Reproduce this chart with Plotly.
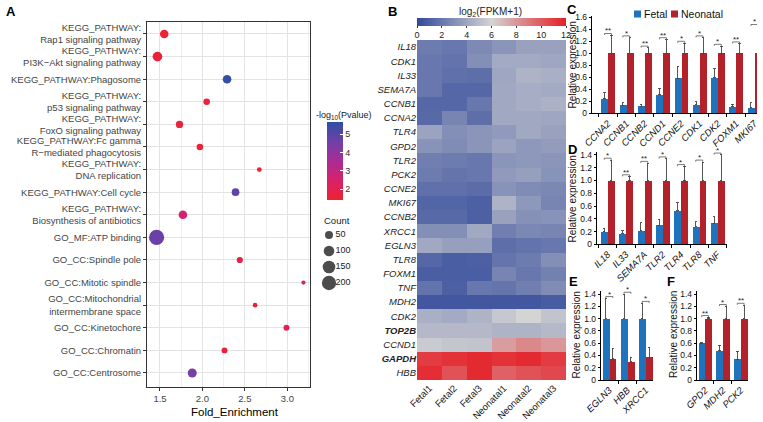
import numpy as np
import plotly.graph_objects as go

W, H = 763, 422
FONT = "Liberation Sans, Arial, Helvetica, sans-serif"
BLUE = "#1F73BD"
RED = "#B3212B"


def fx(p):
    return p / W


def fy(p):
    return 1 - p / H


# ---------------- Panel A data ----------------
terms = [
    "KEGG_PATHWAY:<br>Rap1 signaling pathway",
    "KEGG_PATHWAY:<br>PI3K−Akt signaling pathway",
    "KEGG_PATHWAY:Phagosome",
    "KEGG_PATHWAY:<br>p53 signaling pathway",
    "KEGG_PATHWAY:<br>FoxO signaling pathway",
    "KEGG_PATHWAY:Fc gamma<br>R−mediated phagocytosis",
    "KEGG_PATHWAY:<br>DNA replication",
    "KEGG_PATHWAY:Cell cycle",
    "KEGG_PATHWAY:<br>Biosynthesis of antibiotics",
    "GO_MF:ATP binding",
    "GO_CC:Spindle pole",
    "GO_CC:Mitotic spindle",
    "GO_CC:Mitochondrial<br>intermembrane space",
    "GO_CC:Kinetochore",
    "GO_CC:Chromatin",
    "GO_CC:Centrosome",
]
fold_enrichment = [1.55, 1.47, 2.29, 2.05, 1.73, 1.97, 2.67, 2.39, 1.77, 1.46,
                   2.44, 3.19, 2.62, 2.99, 2.26, 1.88]
neg_log10_p = [1.5, 1.6, 5.6, 1.6, 1.6, 1.55, 1.5, 4.9, 2.6, 4.7,
               1.7, 2.0, 1.6, 2.1, 1.7, 4.5]
gene_count = [60, 80, 60, 30, 40, 30, 12, 45, 60, 230, 25, 8, 11, 23, 23, 67]
size_legend_counts = [50, 100, 150, 200]
pval_ticks = [2, 3, 4, 5]
fold_ticks = [1.5, 2.0, 2.5, 3.0]

# ---------------- Panel B data ----------------
genes = ["IL18", "CDK1", "IL33", "SEMA7A", "CCNB1", "CCNA2", "TLR4", "GPD2",
         "TLR2", "PCK2", "CCNE2", "MKI67", "CCNB2", "XRCC1", "EGLN3", "TLR8",
         "FOXM1", "TNF", "MDH2", "CDK2", "TOP2B", "CCND1", "GAPDH", "HBB"]
bold_genes = ["TOP2B", "GAPDH"]
samples = ["Fetal1", "Fetal2", "Fetal3", "Neonatal1", "Neonatal2", "Neonatal3"]
fetal1 = [2.2, 2.0, 2.0, 2.0, 1.3, 1.4, 3.9, 3.2, 2.3, 2.2, 1.7, 1.2, 1.4, 3.0,
          4.1, 1.3, 0.9, 1.8, 0.6, 4.4, 4.8, 5.6, 11.0, 11.5]
fetal2 = [2.0, 1.8, 1.7, 1.3, 1.3, 2.6, 3.0, 2.9, 2.2, 1.9, 1.7, 1.2, 1.4, 3.0,
          3.7, 0.9, 0.9, 1.0, 0.6, 4.2, 4.8, 5.4, 11.3, 10.3]
fetal3 = [2.8, 3.0, 1.6, 1.3, 2.0, 1.6, 3.3, 3.3, 2.0, 2.0, 1.5, 1.0, 1.0, 4.1,
          3.7, 1.0, 0.9, 2.0, 0.6, 4.6, 4.8, 5.3, 11.6, 11.6]
neonatal1 = [3.3, 4.2, 4.0, 4.1, 4.1, 4.1, 3.5, 3.9, 3.3, 3.5, 3.2, 4.6, 3.8, 2.3,
             1.6, 1.9, 2.6, 1.9, 0.6, 5.5, 4.6, 7.8, 11.3, 9.8]
neonatal2 = [3.8, 4.2, 4.6, 4.3, 4.3, 4.1, 4.1, 3.4, 3.4, 3.7, 2.9, 3.4, 3.1, 2.7,
             1.8, 2.2, 2.0, 2.3, 0.6, 6.0, 4.6, 8.5, 11.6, 10.3]
neonatal3 = [3.8, 4.0, 4.4, 4.2, 4.5, 4.0, 3.8, 3.6, 3.3, 3.2, 2.7, 2.6, 3.2, 2.6,
             2.0, 3.0, 2.4, 2.9, 0.8, 5.3, 4.8, 8.0, 11.0, 10.6]
fpkm_ticks = [0, 2, 4, 6, 8, 10, 12]

# ---------------- Panels C-F data ----------------
genes_c = ["CCNA2", "CCNB1", "CCNB2", "CCND1", "CCNE2", "CDK1", "CDK2", "FOXM1", "MKI67"]
fetal_c = [0.24, 0.13, 0.12, 0.31, 0.58, 0.14, 0.59, 0.11, 0.09]
fetal_c_err = [0.10, 0.045, 0.03, 0.10, 0.20, 0.05, 0.15, 0.04, 0.085]
neo_c = [1, 1, 1, 1, 1, 1, 1, 1, 1]
neo_c_err = [0.30, 0.26, 0.09, 0.23, 0.17, 0.26, 0.12, 0.16, 0.45]
sig_c = ["**", "*", "**", "**", "*", "*", "*", "**", "*"]

genes_d = ["IL18", "IL33", "SEMA7A", "TLR2", "TLR4", "TLR8", "TNF"]
fetal_d = [0.20, 0.17, 0.21, 0.30, 0.53, 0.28, 0.33]
fetal_d_err = [0.05, 0.04, 0.13, 0.09, 0.12, 0.075, 0.10]
neo_d = [1, 1, 1, 1, 1, 1, 1]
neo_d_err = [0.32, 0.06, 0.27, 0.34, 0.22, 0.29, 0.40]
sig_d = ["*", "**", "**", "*", "*", "*", "*"]

genes_e = ["EGLN3", "HBB", "XRCC1"]
fetal_e = [1, 1, 1]
fetal_e_err = [0.33, 0.40, 0.25]
neo_e = [0.35, 0.30, 0.37]
neo_e_err = [0.17, 0.07, 0.16]
sig_e = ["*", "*", "*"]

genes_f = ["GPD2", "MDH2", "PCK2"]
fetal_f = [0.60, 0.48, 0.34]
fetal_f_err = [0.01, 0.09, 0.13]
neo_f = [1, 1, 1]
neo_f_err = [0.02, 0.20, 0.22]
sig_f = ["**", "*", "**"]

rel_ticks_c = [0, 0.2, 0.4, 0.6, 0.8, 1.0, 1.2, 1.4, 1.6]
rel_ticks = [0, 0.2, 0.4, 0.6, 0.8, 1.0, 1.2, 1.4]


def dot_size(c):
    return 1.7 + 0.89 * np.sqrt(np.asarray(c, dtype=float))


fig = go.Figure()
annotations = []
shapes = []

# ---------------- Panel A ----------------
fig.add_trace(go.Scatter(
    x=fold_enrichment, y=terms, mode="markers",
    marker=dict(size=dot_size(gene_count), color=neg_log10_p, coloraxis="coloraxis",
                line=dict(width=0), opacity=1),
    xaxis="x", yaxis="y", showlegend=False, hoverinfo="skip"))

# size legend
fig.add_trace(go.Scatter(
    x=[13] * 4, y=list(range(4)), mode="markers",
    marker=dict(size=dot_size(size_legend_counts), color="black", line=dict(width=0)),
    xaxis="x7", yaxis="y7", showlegend=False, hoverinfo="skip"))
fig.add_trace(go.Scatter(
    x=[19.5] * 4, y=list(range(4)), mode="text", text=[str(c) for c in size_legend_counts],
    textposition="middle right", textfont=dict(size=9, color="#222", family=FONT),
    xaxis="x7", yaxis="y7", showlegend=False, hoverinfo="skip"))

# ---------------- Panel B ----------------
z = np.column_stack([fetal1, fetal2, fetal3, neonatal1, neonatal2, neonatal3])
fig.add_trace(go.Heatmap(z=z, x=samples, y=genes, coloraxis="coloraxis2",
                         xaxis="x2", yaxis="y2", hoverinfo="skip"))
gene_labels = [("<b><i>%s</i></b>" % g) if g in bold_genes else ("<i>%s</i>" % g) for g in genes]


# ---------------- Bar panels ----------------
def bar_panel(xa, ya, gl, fet, fet_err, neo, neo_err, sig):
    n = len(gl)
    pos = np.arange(n)
    for vals, errs, col, off in ((fet, fet_err, BLUE, -0.19), (neo, neo_err, RED, 0.19)):
        fig.add_trace(go.Bar(
            x=pos + off, y=vals, width=0.38, marker=dict(color=col, line=dict(width=0)),
            error_y=dict(type="data", symmetric=False, array=errs, arrayminus=[0] * n,
                         color="#444", thickness=0.9, width=1.2),
            xaxis=xa, yaxis=ya, showlegend=False, hoverinfo="skip"))
    bx, by = [], []
    for i in range(n):
        top = max(fet[i] + fet_err[i], neo[i] + neo_err[i]) + 0.03
        bx += [i - 0.19, i - 0.19, i + 0.19, i + 0.19, None]
        by += [top - 0.025, top, top, top - 0.025, None]
        annotations.append(dict(x=i, y=top, xref=xa, yref=ya, text=sig[i], showarrow=False,
                                yanchor="bottom", yshift=-4,
                                font=dict(size=8, color="#222", family=FONT)))
    fig.add_trace(go.Scatter(x=bx, y=by, mode="lines", line=dict(color="#444", width=0.7),
                             xaxis=xa, yaxis=ya, showlegend=False, hoverinfo="skip"))


bar_panel("x3", "y3", genes_c, fetal_c, fetal_c_err, neo_c, neo_c_err, sig_c)
bar_panel("x4", "y4", genes_d, fetal_d, fetal_d_err, neo_d, neo_d_err, sig_d)
bar_panel("x5", "y5", genes_e, fetal_e, fetal_e_err, neo_e, neo_e_err, sig_e)
bar_panel("x6", "y6", genes_f, fetal_f, fetal_f_err, neo_f, neo_f_err, sig_f)


def bar_xaxis(anchor, domain_px, rng, gl):
    n = len(gl)
    return dict(anchor=anchor, domain=[fx(domain_px[0]), fx(domain_px[1])], range=rng,
                tickmode="array", tickvals=list(range(n)),
                ticktext=["<i>%s</i>" % g for g in gl], tickangle=-45,
                tickfont=dict(size=9.5, color="#111", family=FONT),
                showline=True, linecolor="black", linewidth=1, ticks="",
                minor=dict(tickmode="array", tickvals=[i - 0.5 for i in range(n + 1)],
                           ticks="outside", ticklen=3, tickcolor="black"),
                showgrid=False, zeroline=False, fixedrange=True, automargin=False)


def bar_yaxis(anchor, domain_px, top, ticks):
    return dict(anchor=anchor, domain=[fy(domain_px[1]), fy(domain_px[0])], range=[0, top],
                tickmode="array", tickvals=ticks,
                ticktext=["0" if t == 0 else "%.1f" % t for t in ticks],
                tickfont=dict(size=8.5, color="#111", family=FONT),
                showline=True, linecolor="black", linewidth=1, ticks="outside",
                ticklen=2, tickcolor="black", showgrid=False, zeroline=False,
                automargin=False)


pscale = [[0, "#EC2330"], [0.25, "#D8216A"], [0.5, "#AA2C95"], [0.75, "#7040A8"], [1, "#2E50A3"]]
hscale = [[0, "#32499A"], [0.5, "#D4D4D4"], [1, "#E51E25"]]

layout = dict(
    width=W, height=H, margin=dict(l=0, r=0, t=0, b=0),
    paper_bgcolor="white", plot_bgcolor="white",
    font=dict(family=FONT, color="#333"),
    bargap=0, barmode="overlay",
    xaxis=dict(anchor="y", domain=[fx(147), fx(310)], range=[1.347, 3.267],
               tickmode="array", tickvals=fold_ticks, ticktext=["%.1f" % t for t in fold_ticks],
               tickfont=dict(size=9.5, color="#444", family=FONT),
               showgrid=True, gridcolor="#E3E3E3", gridwidth=1.1,
               minor=dict(tickmode="array", tickvals=[1.25, 1.75, 2.25, 2.75, 3.25], ticks="",
                          showgrid=True, gridcolor="#F0F0F0", gridwidth=0.6),
               showline=True, mirror=True, linecolor="#333", linewidth=1,
               ticks="outside", ticklen=3, tickcolor="#333", zeroline=False, automargin=False),
    yaxis=dict(anchor="x", domain=[fy(387), fy(22)], range=[len(terms) - 1 + 0.62, -0.53],
               type="category", categoryorder="array", categoryarray=terms,
               tickfont=dict(size=9.5, color="#444", family=FONT),
               showgrid=True, gridcolor="#E3E3E3", gridwidth=1.1,
               showline=True, mirror=True, linecolor="#333", linewidth=1,
               ticks="outside", ticklen=3, tickcolor="#333", zeroline=False, automargin=False),
    xaxis2=dict(anchor="y2", domain=[fx(417), fx(566)], tickangle=-45,
                tickfont=dict(size=9.5, color="#222", family=FONT), ticks="",
                showgrid=False, zeroline=False, showline=False, automargin=False),
    yaxis2=dict(anchor="x2", domain=[fy(380), fy(40)], autorange="reversed",
                tickmode="array", tickvals=genes, ticktext=gene_labels,
                tickfont=dict(size=9.5, color="#222", family=FONT), ticks="",
                showgrid=False, zeroline=False, showline=False, automargin=False),
    xaxis3=bar_xaxis("y3", (591.7, 757), [-0.89, 8.14], genes_c),
    yaxis3=bar_yaxis("x3", (16.1, 113.3), 1.62, rel_ticks_c),
    xaxis4=bar_xaxis("y4", (596.7, 726.7), [-0.6, 6.5], genes_d),
    yaxis4=bar_yaxis("x4", (151.8, 244.3), 1.45, rel_ticks),
    xaxis5=bar_xaxis("y5", (600.7, 653), [-0.47, 2.4], genes_e),
    yaxis5=bar_yaxis("x5", (291, 380), 1.45, rel_ticks),
    xaxis6=bar_xaxis("y6", (696.7, 748), [-0.47, 2.41], genes_f),
    yaxis6=bar_yaxis("x6", (291, 380), 1.45, rel_ticks),
    xaxis7=dict(anchor="y7", domain=[fx(316), fx(356)], range=[0, 40], visible=False),
    yaxis7=dict(anchor="x7", domain=[fy(291), fy(227)], range=[3.5, -0.5], visible=False),
    coloraxis=dict(colorscale=pscale, cmin=1.42, cmax=5.69,
                   colorbar=dict(x=fx(326.7), xanchor="left", y=fy(121.7), yanchor="top",
                                 len=78.3, lenmode="pixels", thickness=16, thicknessmode="pixels",
                                 tickmode="array", tickvals=pval_ticks, ticks="inside",
                                 tickcolor="white", ticklen=3,
                                 tickfont=dict(size=9, color="#333", family=FONT),
                                 outlinewidth=0, xpad=0, ypad=0)),
    coloraxis2=dict(colorscale=hscale, cmin=0, cmax=12,
                    colorbar=dict(orientation="h", x=fx(417), xanchor="left", y=fy(18), yanchor="top",
                                  len=149, lenmode="pixels", thickness=8, thicknessmode="pixels",
                                  tickmode="array", tickvals=fpkm_ticks, ticks="outside", ticklen=2,
                                  tickcolor="#333",
                                  tickfont=dict(size=9, color="#222", family=FONT),
                                  outlinewidth=0, xpad=0, ypad=0)),
)


def paper_text(x, y, text, size, color="#111", bold=False, angle=0, xanchor="center"):
    annotations.append(dict(x=fx(x), y=fy(y), xref="paper", yref="paper", text=text,
                            showarrow=False, xanchor=xanchor, yanchor="middle", textangle=angle,
                            font=dict(size=size, color=color, family=FONT)))


for letter, x, y in (("A", 11, 12), ("B", 392, 12), ("C", 572, 9), ("D", 572, 149.5),
                     ("E", 573, 281.7), ("F", 670.7, 281.7)):
    paper_text(x, y, "<b>%s</b>" % letter, 13, "#000")

paper_text(235, 411.5, "Fold_Enrichment", 11.5, "#000")
paper_text(314, 115.7, "-log<sub>10</sub>(Pvalue)", 9, "#222", xanchor="left")
paper_text(322, 220, "Count", 9.5, "#222", xanchor="left")
paper_text(490, 12, "log<sub>2</sub>(FPKM+1)", 10, "#222")
for x, y in ((572.5, 65), (572.5, 199), (575.5, 335), (673, 335)):
    paper_text(x, y, "Relative expression", 10, "#111", angle=-90)

# legend for C
for x0, col, label in ((634, BLUE, "Fetal"), (671, RED, "Neonatal")):
    shapes.append(dict(type="rect", xref="paper", yref="paper", x0=fx(x0), x1=fx(x0 + 7),
                       y0=fy(17.5), y1=fy(10.5), fillcolor=col, line=dict(width=0)))
    paper_text(x0 + 8, 14, label, 10.5, "#111", xanchor="left")

layout["annotations"] = annotations
layout["shapes"] = shapes
fig.update_layout(layout)

fig.write_html("out.html", config={"displayModeBar": False},
               post_script="document.body.style.margin='0';")
